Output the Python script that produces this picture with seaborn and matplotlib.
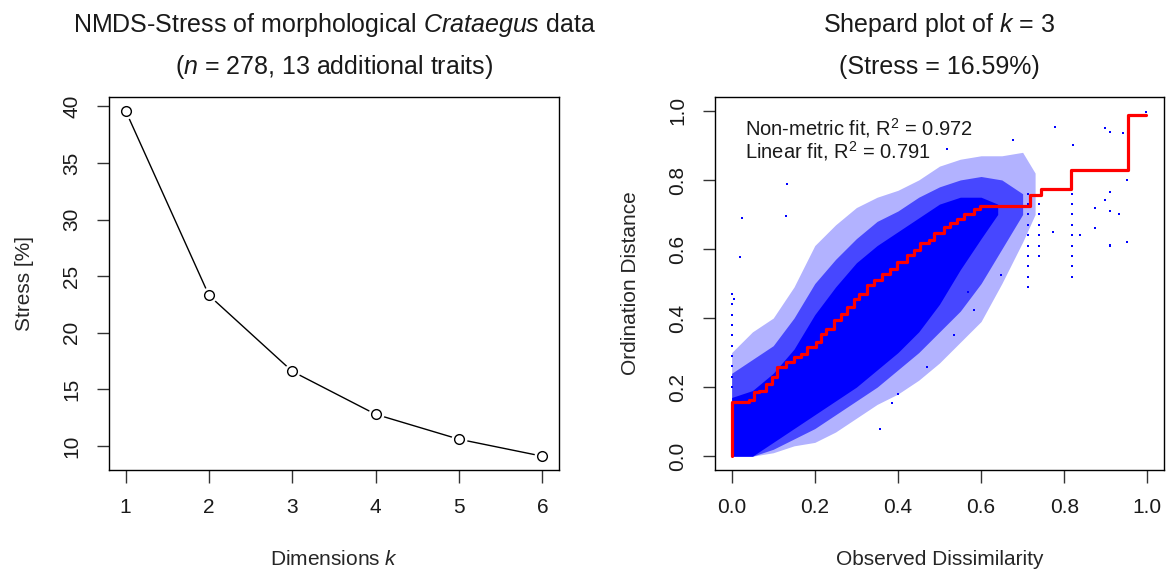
import matplotlib
matplotlib.use("Agg")
import matplotlib.pyplot as plt
import seaborn as sns
import pandas as pd

# ---------------- data ----------------
dims = [1, 2, 3, 4, 5, 6]
stress = [39.6, 23.3, 16.59, 12.8, 10.6, 9.1]

# Shepard cloud envelopes: sparse, medium and dense zones
cloud_x = [0.0, 0.05, 0.1, 0.15, 0.2, 0.25, 0.3, 0.35, 0.4, 0.45, 0.5, 0.55, 0.6, 0.65, 0.7, 0.73]
outer_hi = [0.30, 0.36, 0.40, 0.49, 0.61, 0.67, 0.72, 0.75, 0.77, 0.80, 0.84, 0.86, 0.87, 0.87, 0.88, 0.82]
outer_lo = [0.0, 0.0, 0.01, 0.03, 0.04, 0.07, 0.11, 0.15, 0.18, 0.22, 0.27, 0.33, 0.39, 0.50, 0.62, 0.70]
mid_x = [0.0, 0.05, 0.1, 0.15, 0.2, 0.25, 0.3, 0.35, 0.4, 0.45, 0.5, 0.55, 0.6, 0.65, 0.7]
mid_hi = [0.24, 0.28, 0.32, 0.40, 0.50, 0.57, 0.63, 0.68, 0.71, 0.75, 0.78, 0.80, 0.81, 0.80, 0.76]
mid_lo = [0.0, 0.0, 0.02, 0.05, 0.08, 0.12, 0.16, 0.20, 0.25, 0.30, 0.36, 0.42, 0.50, 0.60, 0.70]
core_x = [0.0, 0.05, 0.1, 0.15, 0.2, 0.25, 0.3, 0.35, 0.4, 0.45, 0.5, 0.55, 0.6, 0.64]
core_hi = [0.17, 0.19, 0.24, 0.31, 0.41, 0.49, 0.56, 0.61, 0.65, 0.69, 0.73, 0.75, 0.75, 0.73]
core_lo = [0.0, 0.0, 0.04, 0.08, 0.12, 0.16, 0.20, 0.25, 0.30, 0.36, 0.44, 0.54, 0.63, 0.70]

# sparse outlying points and vertical streaks
out_x = [0.0, 0.0, 0.0, 0.0, 0.0, 0.0, 0.0, 0.0, 0.0, 0.0,
         0.134, 0.020, 0.026, 0.130, 0.518, 0.678, 0.778, 0.822,
         0.898, 0.941, 0.909, 0.933, 0.952, 0.909, 0.838, 0.774, 0.898,
         0.648, 0.582, 0.534, 0.569, 0.470, 0.401, 0.358, 0.385, 0.997, 0.006, 0.952,
         0.714, 0.714, 0.714, 0.714, 0.714, 0.714, 0.714, 0.714, 0.714, 0.714,
         0.740, 0.740, 0.740, 0.740, 0.740, 0.740,
         0.818, 0.818, 0.818, 0.818, 0.818, 0.818, 0.818, 0.818, 0.818, 0.818,
         0.909, 0.909, 0.909, 0.875, 0.875]
out_y = [0.20, 0.23, 0.26, 0.29, 0.32, 0.35, 0.38, 0.41, 0.44, 0.47,
         0.787, 0.577, 0.689, 0.697, 0.891, 0.915, 0.952, 0.900,
         0.950, 0.936, 0.765, 0.702, 0.621, 0.612, 0.640, 0.650, 0.741,
         0.524, 0.423, 0.351, 0.476, 0.258, 0.181, 0.079, 0.154, 0.997, 0.456, 0.80,
         0.49, 0.52, 0.55, 0.58, 0.61, 0.64, 0.67, 0.70, 0.73, 0.76,
         0.58, 0.61, 0.64, 0.67, 0.70, 0.73,
         0.52, 0.55, 0.58, 0.61, 0.64, 0.67, 0.70, 0.73, 0.76, 0.78,
         0.61, 0.71, 0.94, 0.66, 0.72]

# non-metric (monotone) fit step line
fit_x = [0.0, 0.0, 0.042, 0.054, 0.066, 0.082, 0.098, 0.110, 0.130, 0.150, 0.166, 0.182, 0.202,
         0.214, 0.226, 0.246, 0.262, 0.278, 0.294, 0.306, 0.326, 0.342, 0.362, 0.382, 0.398,
         0.422, 0.438, 0.454, 0.474, 0.486, 0.510, 0.526, 0.542, 0.558, 0.582, 0.598, 0.614,
         0.718, 0.745, 0.817, 0.953, 0.997]
fit_y = [0.0, 0.157, 0.162, 0.186, 0.190, 0.210, 0.229, 0.258, 0.273, 0.287, 0.297, 0.316, 0.331,
         0.355, 0.369, 0.393, 0.413, 0.432, 0.456, 0.471, 0.495, 0.509, 0.529, 0.543, 0.563,
         0.582, 0.596, 0.616, 0.626, 0.645, 0.664, 0.674, 0.688, 0.702, 0.717, 0.725, 0.725,
         0.757, 0.773, 0.828, 0.989, 0.989]

x_ticks_right = [0.0, 0.2, 0.4, 0.6, 0.8, 1.0]
y_ticks_left = [10, 15, 20, 25, 30, 35, 40]

# ---------------- style ----------------
sns.set_theme(style="white")
plt.rcParams['font.family'] = ['Liberation Sans', 'DejaVu Sans']
plt.rcParams['mathtext.fontset'] = 'custom'
plt.rcParams['mathtext.rm'] = 'Liberation Sans'
plt.rcParams['mathtext.it'] = 'Liberation Sans:italic'
plt.rcParams['text.color'] = '#1a1a1a'

TITLE_FS = 18
LAB_FS = 15
TICK_FS = 15

fig = plt.figure(figsize=(11.67, 5.72), dpi=100)
ax1 = fig.add_axes([0.0934, 0.1783, 0.3856, 0.652])
ax2 = fig.add_axes([0.6127, 0.1783, 0.3847, 0.652])

def r_style(ax):
    for s in ax.spines.values():
        s.set_color('black')
        s.set_linewidth(1.0)
    ax.tick_params(axis='both', direction='out', length=9, width=1.0, color='#333333',
                   labelsize=TICK_FS, pad=11, labelcolor='#1a1a1a',
                   bottom=True, left=True)

# ---------------- left panel ----------------
df1 = pd.DataFrame({'k': dims, 'stress': stress})
sns.lineplot(data=df1, x='k', y='stress', ax=ax1, color='black', linewidth=1.0,
             estimator=None, sort=False)
ax1.plot(df1['k'], df1['stress'], linestyle='none', marker='o', markersize=10.5,
         markerfacecolor='white', markeredgecolor='white', zorder=3)
ax1.plot(df1['k'], df1['stress'], linestyle='none', marker='o', markersize=7,
         markerfacecolor='white', markeredgecolor='black', markeredgewidth=1.0, zorder=4)
ax1.set_xlim(0.8, 6.2)
ax1.set_ylim(7.88, 40.82)
ax1.set_xticks(dims)
ax1.set_yticks(y_ticks_left)
ax1.set_xlabel('Dimensions $\\it{k}$', fontsize=LAB_FS, labelpad=24)
ax1.set_ylabel('Stress [%]', fontsize=LAB_FS, labelpad=20)
r_style(ax1)
ax1.set_yticklabels([str(v) for v in y_ticks_left], rotation=90, va='center')
fig.text(0.2862, 1 - 25 / 572, 'NMDS-Stress of morphological $\\it{Crataegus}$ data',
         ha='center', va='center', fontsize=TITLE_FS)
fig.text(0.2862, 1 - 67 / 572, '($\\it{n}$ = 278, 13 additional traits)',
         ha='center', va='center', fontsize=TITLE_FS)

# ---------------- right panel ----------------
ax2.fill_between(cloud_x, outer_lo, outer_hi, color='#0000ff', alpha=0.3, linewidth=0, zorder=1)
ax2.fill_between(mid_x, mid_lo, mid_hi, color='#0000ff', alpha=0.6, linewidth=0, zorder=1.5)
ax2.fill_between(core_x, core_lo, core_hi, color='#0000ff', alpha=1.0, linewidth=0, zorder=2)
df_out = pd.DataFrame({'x': out_x, 'y': out_y})
sns.scatterplot(data=df_out, x='x', y='y', ax=ax2, color='#0000ff', s=4, marker='s',
                linewidth=0, zorder=3)
df_fit = pd.DataFrame({'x': fit_x, 'y': fit_y})
sns.lineplot(data=df_fit, x='x', y='y', ax=ax2, color='#ff0000', linewidth=2.3,
             drawstyle='steps-post', estimator=None, sort=False, zorder=5)
ax2.set_xlim(-0.04, 1.04)
ax2.set_ylim(-0.04, 1.04)
ax2.set_xticks(x_ticks_right)
ax2.set_yticks(x_ticks_right)
ax2.set_xticklabels(['%.1f' % v for v in x_ticks_right])
ax2.set_xlabel('Observed Dissimilarity', fontsize=LAB_FS, labelpad=24)
ax2.set_ylabel('Ordination Distance', fontsize=LAB_FS, labelpad=20)
r_style(ax2)
ax2.set_yticklabels(['%.1f' % v for v in x_ticks_right], rotation=90, va='center')
ax2.text(0.031, 0.93, 'Non-metric fit, R$^2$ = 0.972', fontsize=14.5, ha='left', va='baseline')
ax2.text(0.031, 0.863, 'Linear fit, R$^2$ = 0.791', fontsize=14.5, ha='left', va='baseline')
fig.text(0.8050, 1 - 25 / 572, 'Shepard plot of $\\it{k}$ = 3',
         ha='center', va='center', fontsize=TITLE_FS)
fig.text(0.8050, 1 - 67 / 572, '(Stress = 16.59%)',
         ha='center', va='center', fontsize=TITLE_FS)

fig.savefig('out.png', dpi=100)
